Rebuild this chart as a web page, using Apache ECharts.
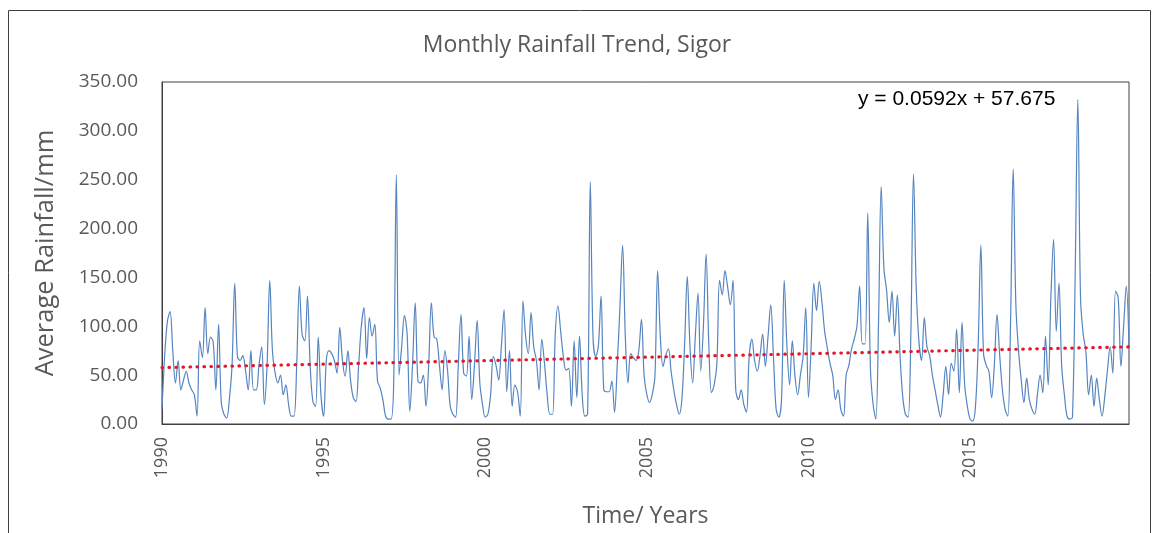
<!DOCTYPE html>
<html><head><meta charset="utf-8">
<script src="https://cdn.jsdelivr.net/npm/echarts@6/dist/echarts.min.js"></script>
<style>html,body{margin:0;padding:0;background:#fff}#c{width:1154px;height:533px}</style>
</head><body><div id="c"></div>
<script>
const title = 'Monthly Rainfall Trend, Sigor';
const startYear = 1990;
const tickLabels = ['1990','1995','2000','2005','2010','2015'];
// monthly average rainfall (mm), Jan 1990 onward
const rainfall = [
15,70,105,115,75,42,65,35,45,54,42,35,30,8,85,68,119,72,89,84,35,102,22,10,6,25,60,144,69,65,70,55,35,75,35,
35,60,79,20,60,147,75,52,42,50,30,40,20,8,8,60,141,92,85,131,60,23,18,89,30,8,65,75,72,65,52,99,65,49,75,
45,27,23,60,100,119,67,109,90,102,44,37,25,8,5,5,40,255,50,80,111,92,13,60,124,44,42,50,18,60,124,89,87,60,35,75,
55,18,10,7,60,112,52,49,90,25,60,106,42,20,7,10,30,69,60,45,80,117,33,75,18,40,33,8,126,90,72,114,79,65,35,
87,62,30,10,10,92,121,95,69,55,57,18,85,27,90,30,8,10,248,90,69,80,131,35,33,33,44,12,60,119,183,90,42,72,68,65,
75,107,49,30,22,30,49,157,90,59,70,77,54,35,20,10,25,80,151,80,42,90,134,54,100,174,82,32,40,62,147,132,157,140,122,
147,35,25,35,20,12,70,87,65,54,70,92,59,90,122,69,15,7,25,147,80,40,85,49,30,50,69,119,27,80,144,116,146,125,95,78,
62,50,25,35,15,8,50,60,77,87,100,141,82,82,216,57,20,5,102,243,160,137,104,136,90,132,70,28,10,7,90,256,140,85,65,
109,79,70,50,35,20,7,30,59,30,62,54,97,32,104,40,18,5,3,18,80,183,72,60,54,27,60,112,70,35,15,8,100,261,122,
75,45,22,47,25,15,10,30,50,32,90,40,130,189,95,144,60,30,8,5,7,150,332,129,92,74,30,50,18,47,25,8,28,55,79,
52,136,129,59,100,141,79
];
// linear trend shown on chart: y = 0.0592x + 57.675
const trendSlope = 0.0592;
const trendIntercept = 57.675;
const equationText = 'y = 0.0592x + 57.675';

const categories = rainfall.map((v, i) => String(startYear + Math.floor(i / 12)));
const trend = rainfall.map((v, i) => +(trendSlope * (i + 1) + trendIntercept).toFixed(3));

const chart = echarts.init(document.getElementById('c'), null, {renderer: 'canvas'});
const FONT = '"Open Sans", "Noto Sans", sans-serif';
chart.setOption({
  animation: false,
  backgroundColor: '#ffffff',
  title: {
    text: title, left: 'center', top: 29,
    textStyle: {fontFamily: FONT, fontSize: 23, fontWeight: 'normal', color: '#595959'}
  },
  grid: {left: 162, right: 25, top: 82, bottom: 103, show: true, borderColor: '#404040', borderWidth: 1},
  xAxis: {
    type: 'category', data: categories, boundaryGap: false,
    name: 'Time/ Years', nameLocation: 'middle', nameGap: 81,
    nameTextStyle: {fontFamily: FONT, fontSize: 23, color: '#595959'},
    axisLine: {lineStyle: {color: '#404040'}},
    axisTick: {show: false},
    axisLabel: {
      interval: (i) => i % 60 === 0 && tickLabels.includes(categories[i]),
      rotate: 90, margin: 13,
      fontFamily: FONT, fontSize: 18, color: '#595959'
    },
    splitLine: {show: false}
  },
  yAxis: {
    type: 'value', min: 0, max: 350, interval: 50,
    name: 'Average Rainfall/mm', nameLocation: 'middle', nameGap: 103,
    nameTextStyle: {fontFamily: FONT, fontSize: 25.5, color: '#595959'},
    axisLine: {show: true, lineStyle: {color: '#404040'}},
    axisTick: {show: false},
    axisLabel: {formatter: (v) => v.toFixed(2), margin: 24, fontFamily: FONT, fontSize: 19, color: '#595959'},
    splitLine: {show: false}
  },
  series: [
    {
      type: 'line', data: rainfall, smooth: 0.35, symbol: 'none',
      lineStyle: {color: '#5585c0', width: 1.2}, z: 2
    },
    {
      type: 'line', data: trend, symbol: 'none',
      lineStyle: {color: '#e3172a', width: 3.2, type: [0.5, 6.5], cap: 'round'}, z: 3
    }
  ],
  graphic: [
    {type: 'rect', left: 6, top: 8, shape: {width: 1142, height: 540}, style: {fill: 'none', stroke: '#404040', lineWidth: 1}, silent: true},
    {type: 'text', left: 858, top: 89, style: {text: equationText, font: '21px "Liberation Sans", Arial, sans-serif', fill: '#000000'}}
  ]
});
</script></body></html>
